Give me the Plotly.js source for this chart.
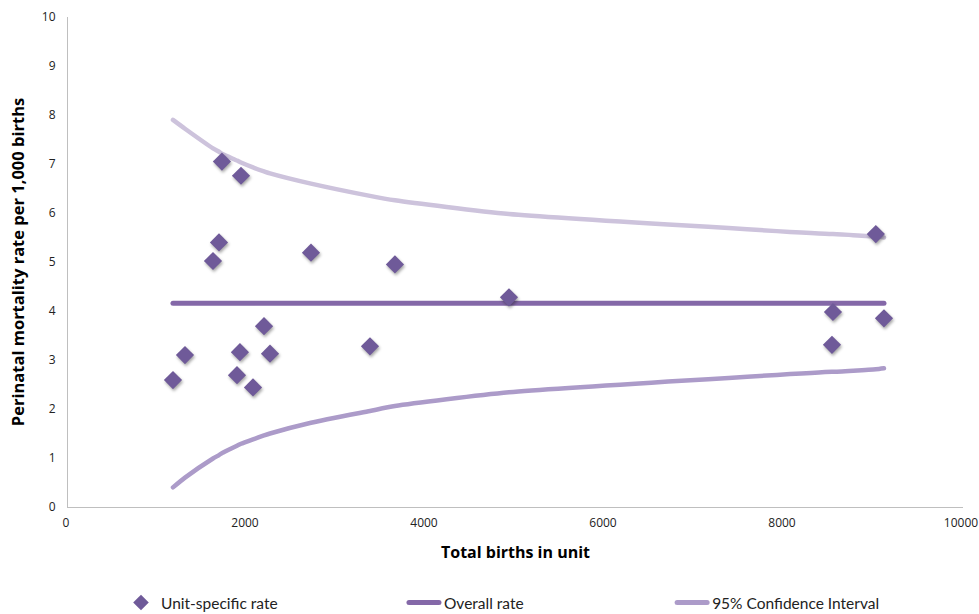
<!DOCTYPE html>
<html>
<head>
<meta charset="utf-8">
<script src="https://cdn.plot.ly/plotly-3.0.1.min.js"></script>
<style>
  html, body { margin: 0; padding: 0; background: #fff; }
  #chart { width: 979px; height: 614px; }
  /* soft drop shadow under the unit diamonds */
  .scatterlayer .trace.units .points path { filter: drop-shadow(1px 2px 1.5px rgba(0,0,0,0.35)); }
  .scatterlayer .js-line { stroke-linecap: round; stroke-linejoin: round; }
  .legendlines path { stroke-linecap: round; }
</style>
</head>
<body>
<div id="chart"></div>
<script>
// Units: total births and perinatal mortality rate (per 1,000 births)
const unitBirths = [1173, 1307, 1620, 1687, 1720, 1888, 1921, 1933, 2067, 2190, 2257, 2715, 3374, 3653, 4927, 8536, 8547, 9026, 9117];
const unitRate   = [2.59, 3.10, 5.02, 5.40, 7.05, 2.69, 3.16, 6.76, 2.44, 3.69, 3.13, 5.19, 3.28, 4.95, 4.28, 3.31, 3.98, 5.57, 3.85];

// Overall rate across all units
const overallRate = 4.16;
const overallY = unitBirths.map(() => overallRate);

// 95% control limits evaluated at each unit size
const ciUpper = [7.90, 7.72, 7.32, 7.25, 7.21, 7.07, 7.04, 7.03, 6.93, 6.85, 6.81, 6.60, 6.35, 6.26, 5.98, 5.57, 5.57, 5.52, 5.50];
const ciLower = [0.40, 0.60, 0.99, 1.06, 1.10, 1.25, 1.28, 1.29, 1.38, 1.46, 1.50, 1.72, 1.96, 2.06, 2.34, 2.76, 2.76, 2.81, 2.83];

const xTitle = 'Total births in unit';
const yTitle = 'Perinatal mortality rate per 1,000 births';

const traces = [
  {
    x: unitBirths, y: ciUpper, mode: 'lines', name: '95% Confidence Interval',
    line: { color: '#CDC3DC', width: 4.5, shape: 'spline', smoothing: 0.6 },
    showlegend: false, hoverinfo: 'skip'
  },
  {
    x: unitBirths, y: ciLower, mode: 'lines', name: '95% Confidence Interval',
    line: { color: '#AC9BC9', width: 4.5, shape: 'spline', smoothing: 0.6 },
    legend: 'legend3'
  },
  {
    x: unitBirths, y: overallY, mode: 'lines', name: 'Overall rate',
    line: { color: '#8468A8', width: 5 },
    legend: 'legend2'
  },
  {
    x: unitBirths, y: unitRate, mode: 'markers', name: 'Unit-specific rate',
    marker: { symbol: 'diamond', size: 14, color: '#6F5A99', line: { width: 0 } },
    legend: 'legend'
  }
];

const legendFont = { family: 'Lato, "Open Sans", sans-serif', size: 15.5, color: '#222222' };
const legendBase = { orientation: 'h', xanchor: 'left', yanchor: 'middle', yref: 'container', y: 0.018,
                     font: legendFont, bgcolor: 'rgba(0,0,0,0)', itemwidth: 30, itemsizing: 'constant' };

const tickFont = { family: '"Open Sans", sans-serif', size: 12, color: '#222' };
const titleFont = { family: '"Open Sans", sans-serif', size: 16, color: '#000', weight: 'bold' };

const layout = {
  width: 979, height: 614,
  margin: { l: 68, r: 16, t: 17, b: 107 },
  paper_bgcolor: '#ffffff', plot_bgcolor: '#ffffff',
  font: { family: '"Open Sans", sans-serif', color: '#222' },
  xaxis: {
    range: [0, 10000], dtick: 2000, tick0: 0, tickformat: 'd',
    showgrid: false, zeroline: false,
    showline: true, linecolor: '#BFBFBF', linewidth: 1,
    ticks: '', ticklabelstandoff: 5, ticklabelshift: -2, ticklabeloverflow: 'allow',
    tickfont: tickFont,
    title: { text: xTitle, font: titleFont, standoff: 16 }
  },
  yaxis: {
    range: [0, 10], dtick: 1, tick0: 0,
    showgrid: false, zeroline: false,
    showline: true, linecolor: '#BFBFBF', linewidth: 1,
    ticks: '', ticklabelstandoff: 9, ticklabeloverflow: 'allow',
    tickfont: tickFont,
    title: { text: yTitle, font: Object.assign({}, titleFont, { size: 16.5 }), standoff: 13 }
  },
  showlegend: true,
  legend:  Object.assign({}, legendBase, { x: 0.0592 }),
  legend2: Object.assign({}, legendBase, { x: 0.3754 }),
  legend3: Object.assign({}, legendBase, { x: 0.675 })
};

Plotly.newPlot('chart', traces, layout, { staticPlot: true }).then(gd => {
  // tag the marker trace so the shadow style applies only to it
  const tr = gd.querySelectorAll('.scatterlayer .trace');
  tr[tr.length - 1].classList.add('units');
});
</script>
</body>
</html>
